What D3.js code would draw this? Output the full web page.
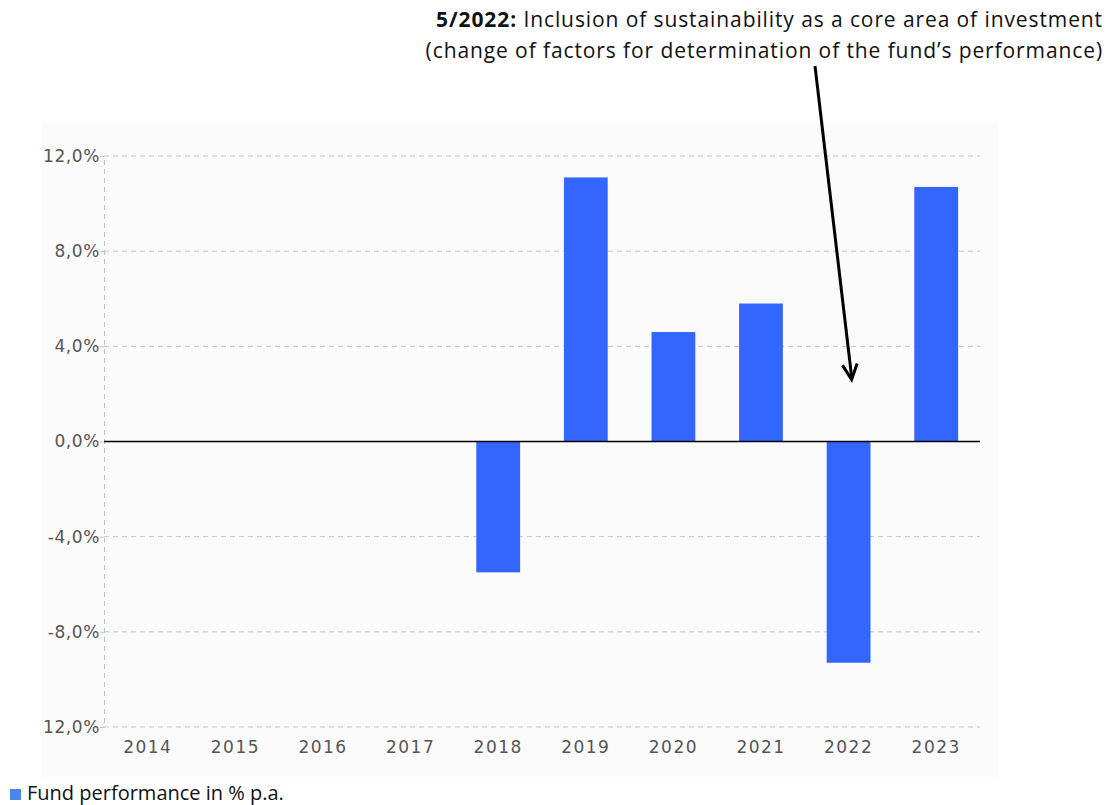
<!DOCTYPE html>
<html>
<head>
<meta charset="utf-8">
<script src="https://cdn.jsdelivr.net/npm/d3@7"></script>
<style>
  body { margin: 0; background: #fff; }
</style>
</head>
<body>
<div id="wrapper"></div>
<script>
const years = ["2014", "2015", "2016", "2017", "2018", "2019", "2020", "2021", "2022", "2023"]
const performance = [null, null, null, null, -5.5, 11.1, 4.6, 5.8, -9.3, 10.7]
const yTicks = [12, 8, 4, 0, -4, -8, -12]
const yTickLabels = ["12,0%", "8,0%", "4,0%", "0,0%", "-4,0%", "-8,0%", "12,0%"]
const noteBold = "5/2022:"
const noteLine1 = " Inclusion of sustainability as a core area of investment"
const noteLine2 = "(change of factors for determination of the fund\u2019s performance)"
const legendLabel = "Fund performance in % p.a."

const dimensions = {
    width: 1115,
    height: 805,
    margin: { top: 156, right: 135, bottom: 78, left: 104 },
}
dimensions.boundedWidth = dimensions.width - dimensions.margin.left - dimensions.margin.right
dimensions.boundedHeight = dimensions.height - dimensions.margin.top - dimensions.margin.bottom

const svg = d3.select("#wrapper")
    .append("svg")
    .attr("width", dimensions.width)
    .attr("height", dimensions.height)

// faint panel behind the chart
svg.append("rect")
    .attr("x", 42).attr("y", 122)
    .attr("width", 956).attr("height", 655)
    .attr("fill", "#fbfbfb")

const bounds = svg.append("g")
    .attr("transform", `translate(${dimensions.margin.left},${dimensions.margin.top})`)

const xScale = d3.scaleBand()
    .domain(years)
    .range([0, dimensions.boundedWidth])
    .paddingInner(0.5)
    .paddingOuter(0.25)

const yScale = d3.scaleLinear()
    .domain([-12, 12])
    .range([dimensions.boundedHeight, 0])

// grid lines
bounds.selectAll(".grid")
    .data(yTicks.filter(d => d !== 0))
    .join("line")
    .attr("x1", 0)
    .attr("x2", dimensions.boundedWidth)
    .attr("y1", d => yScale(d))
    .attr("y2", d => yScale(d))
    .attr("stroke", "#c4c4c4")
    .attr("stroke-width", 1)
    .attr("stroke-dasharray", "5,4")

// y axis
const yAxis = d3.axisLeft(yScale)
    .tickValues(yTicks)
    .tickFormat((d, i) => yTickLabels[i])
    .tickSize(4)
const yAxisG = bounds.append("g").call(yAxis)
yAxisG.select(".domain")
    .attr("stroke", "#c4c4c4")
    .attr("stroke-dasharray", "5,4")
yAxisG.selectAll(".tick line").attr("stroke", "#c4c4c4")
yAxisG.selectAll(".tick text")
    .attr("x", -4)
    .attr("fill", "#555")
    .style("font-family", "'DejaVu Sans', Verdana, sans-serif")
    .style("font-size", "17px")
    .style("letter-spacing", "0.6px")

// x axis labels
const xAxis = d3.axisBottom(xScale).tickSize(0).tickPadding(14)
const xAxisG = bounds.append("g")
    .attr("transform", `translate(0,${dimensions.boundedHeight})`)
    .call(xAxis)
xAxisG.select(".domain").remove()
xAxisG.selectAll(".tick text")
    .attr("fill", "#555")
    .style("font-family", "'DejaVu Sans', Verdana, sans-serif")
    .style("font-size", "17px")
    .style("letter-spacing", "1.5px")

// bars
const data = years.map((y, i) => ({ year: y, value: performance[i] }))
    .filter(d => d.value !== null)
bounds.selectAll(".bar")
    .data(data)
    .join("rect")
    .attr("x", d => xScale(d.year))
    .attr("width", xScale.bandwidth())
    .attr("y", d => yScale(Math.max(0, d.value)))
    .attr("height", d => Math.abs(yScale(d.value) - yScale(0)))
    .attr("fill", "#3366ff")

// zero line
bounds.append("line")
    .attr("x1", 0)
    .attr("x2", dimensions.boundedWidth)
    .attr("y1", yScale(0))
    .attr("y2", yScale(0))
    .attr("stroke", "#000")
    .attr("stroke-width", 1.5)

// annotation
const note = svg.append("text")
    .attr("text-anchor", "end")
    .style("font-family", "'Open Sans', 'Noto Sans', sans-serif")
    .style("font-size", "21px")
    .style("letter-spacing", "0.9px")
    .attr("fill", "#111")
const t1 = note.append("tspan").attr("x", 1103).attr("y", 27)
t1.append("tspan").attr("font-weight", "bold").text(noteBold)
t1.append("tspan").text(noteLine1)
note.append("tspan").attr("x", 1103).attr("y", 58).text(noteLine2)

// arrow pointing at 2022
const arrowX = xScale("2022") + xScale.bandwidth() / 2 + dimensions.margin.left + 3
const arrowTipY = yScale(2.6) + dimensions.margin.top
svg.append("line")
    .attr("x1", 815).attr("y1", 66)
    .attr("x2", arrowX).attr("y2", arrowTipY - 3)
    .attr("stroke", "#000")
    .attr("stroke-width", 3)
const ang = Math.atan2(arrowTipY - 66, arrowX - 815)
const headLen = 17
const spread = 0.45
svg.append("path")
    .attr("d", `M${arrowX - headLen * Math.cos(ang - spread)},${arrowTipY - headLen * Math.sin(ang - spread)}
      L${arrowX},${arrowTipY}
      L${arrowX - headLen * Math.cos(ang + spread)},${arrowTipY - headLen * Math.sin(ang + spread)}`)
    .attr("fill", "none")
    .attr("stroke", "#000")
    .attr("stroke-width", 3)
    .attr("stroke-linejoin", "miter")

// legend
svg.append("rect")
    .attr("x", 10).attr("y", 789)
    .attr("width", 11).attr("height", 11)
    .attr("fill", "#4a86e8")
svg.append("text")
    .attr("x", 27).attr("y", 800)
    .style("font-family", "'Open Sans', 'Noto Sans', sans-serif")
    .style("font-size", "20px")
    .attr("fill", "#111")
    .text(legendLabel)
</script>
</body>
</html>
